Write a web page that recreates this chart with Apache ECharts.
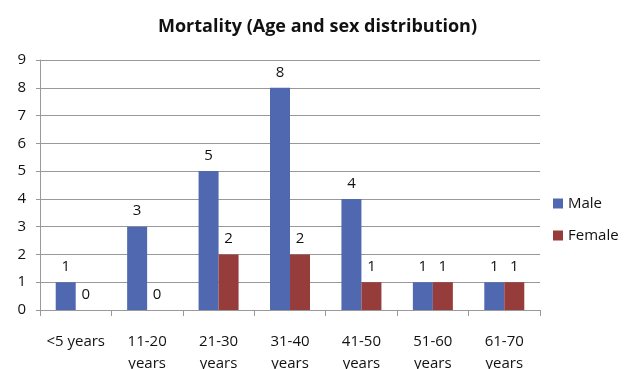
<!DOCTYPE html>
<html>
<head>
<meta charset="utf-8">
<script src="https://cdn.jsdelivr.net/npm/echarts@6/dist/echarts.min.js"></script>
<style>
  html, body { margin: 0; padding: 0; background: #fff; }
  #chart { width: 635px; height: 369px; }
</style>
</head>
<body>
<div id="chart"></div>
<script>
// 年龄组
const categories = ['<5 years', '11-20\nyears', '21-30\nyears', '31-40\nyears', '41-50\nyears', '51-60\nyears', '61-70\nyears'];
const maleValues = [1, 3, 5, 8, 4, 1, 1];
const femaleValues = [0, 0, 2, 2, 1, 1, 1];
const yTicks = { min: 0, max: 9, interval: 1 };

const font = '"Open Sans", "Liberation Sans", sans-serif';

const myEcharts = echarts.init(document.getElementById('chart'));
const option = {
    animation: false,
    textStyle: { fontFamily: font },
    title: {
        text: 'Mortality (Age and sex distribution)',
        left: 'center',
        top: 13,
        textStyle: { fontSize: 18, fontWeight: 'bold', color: '#111', fontFamily: font }
    },
    legend: {
        orient: 'vertical',
        left: 548,
        top: 191,
        itemWidth: 10,
        itemHeight: 10,
        itemGap: 17,
        icon: 'rect',
        textStyle: { fontSize: 15, color: '#111', fontFamily: font },
        data: ['Male', 'Female']
    },
    grid: { left: 40, right: 95, top: 60, bottom: 59, outerBoundsMode: 'none', containLabel: false },
    xAxis: {
        type: 'category',
        data: categories,
        axisLine: { lineStyle: { color: '#999' } },
        axisTick: { show: true, length: 6, lineStyle: { color: '#999' } },
        axisLabel: { fontSize: 15, color: '#111', margin: 21, lineHeight: 22, interval: 0 }
    },
    yAxis: {
        type: 'value',
        min: yTicks.min,
        max: yTicks.max,
        interval: yTicks.interval,
        axisLine: { show: true, lineStyle: { color: '#999' } },
        axisTick: { show: true, length: 4, lineStyle: { color: '#999' } },
        axisLabel: { fontSize: 15, color: '#111', margin: 14 },
        splitLine: { lineStyle: { color: '#999' } }
    },
    series: [{
        name: 'Male',
        type: 'bar',
        data: maleValues,
        barWidth: 20,
        barGap: '0%',
        itemStyle: { color: '#5068b0' },
        label: { show: true, position: 'top', distance: 8, fontSize: 15, color: '#111' }
    }, {
        name: 'Female',
        type: 'bar',
        data: femaleValues,
        barWidth: 20,
        itemStyle: { color: '#963c3a' },
        label: { show: true, position: 'top', distance: 8, fontSize: 15, color: '#111' }
    }]
};
myEcharts.setOption(option);
</script>
</body>
</html>
